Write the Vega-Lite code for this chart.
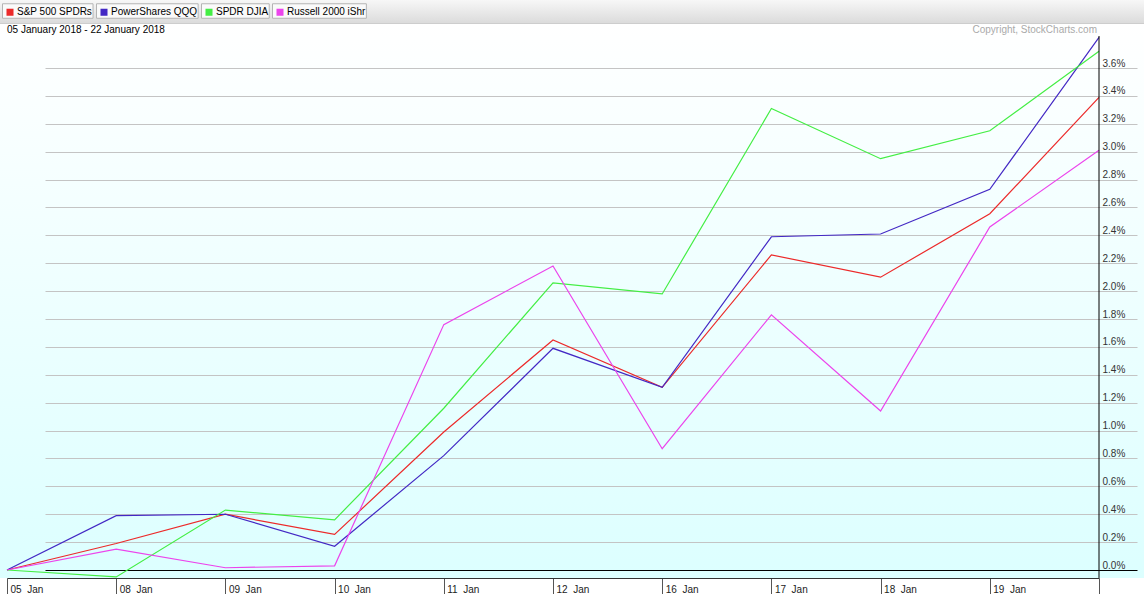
{
  "$schema": "https://vega.github.io/schema/vega-lite/v6.json",
  "width": 1144,
  "height": 578,
  "autosize": "none",
  "padding": {"left": 0, "top": 0, "right": 0, "bottom": 16},
  "background": "#ffffff",
  "config": {
    "font": "Liberation Sans",
    "view": {
      "stroke": null,
      "fill": {
        "gradient": "linear", "x1": 0, "y1": 0, "x2": 0, "y2": 1,
        "stops": [
          {"offset": 0, "color": "#f7f7f7"},
          {"offset": 0.039, "color": "#dcdcdc"},
          {"offset": 0.0405, "color": "#c4c4c4"},
          {"offset": 0.0415, "color": "#ffffff"},
          {"offset": 1, "color": "#dcffff"}
        ]
      }
    }
  },
  "datasets": {
    "perf": [
      {"date": "05 Jan", "series": "S&P 500 SPDRs", "pct": 0},
      {"date": "08 Jan", "series": "S&P 500 SPDRs", "pct": 0.19},
      {"date": "09 Jan", "series": "S&P 500 SPDRs", "pct": 0.40},
      {"date": "10 Jan", "series": "S&P 500 SPDRs", "pct": 0.255},
      {"date": "11 Jan", "series": "S&P 500 SPDRs", "pct": 0.99},
      {"date": "12 Jan", "series": "S&P 500 SPDRs", "pct": 1.65},
      {"date": "16 Jan", "series": "S&P 500 SPDRs", "pct": 1.31},
      {"date": "17 Jan", "series": "S&P 500 SPDRs", "pct": 2.26},
      {"date": "18 Jan", "series": "S&P 500 SPDRs", "pct": 2.10},
      {"date": "19 Jan", "series": "S&P 500 SPDRs", "pct": 2.555},
      {"date": "22 Jan", "series": "S&P 500 SPDRs", "pct": 3.39},
      {"date": "05 Jan", "series": "PowerShares QQQ", "pct": 0},
      {"date": "08 Jan", "series": "PowerShares QQQ", "pct": 0.39},
      {"date": "09 Jan", "series": "PowerShares QQQ", "pct": 0.40},
      {"date": "10 Jan", "series": "PowerShares QQQ", "pct": 0.17},
      {"date": "11 Jan", "series": "PowerShares QQQ", "pct": 0.82},
      {"date": "12 Jan", "series": "PowerShares QQQ", "pct": 1.59},
      {"date": "16 Jan", "series": "PowerShares QQQ", "pct": 1.31},
      {"date": "17 Jan", "series": "PowerShares QQQ", "pct": 2.39},
      {"date": "18 Jan", "series": "PowerShares QQQ", "pct": 2.41},
      {"date": "19 Jan", "series": "PowerShares QQQ", "pct": 2.73},
      {"date": "22 Jan", "series": "PowerShares QQQ", "pct": 3.82},
      {"date": "05 Jan", "series": "SPDR DJIA", "pct": 0},
      {"date": "08 Jan", "series": "SPDR DJIA", "pct": -0.05},
      {"date": "09 Jan", "series": "SPDR DJIA", "pct": 0.43},
      {"date": "10 Jan", "series": "SPDR DJIA", "pct": 0.36},
      {"date": "11 Jan", "series": "SPDR DJIA", "pct": 1.16},
      {"date": "12 Jan", "series": "SPDR DJIA", "pct": 2.06},
      {"date": "16 Jan", "series": "SPDR DJIA", "pct": 1.98},
      {"date": "17 Jan", "series": "SPDR DJIA", "pct": 3.31},
      {"date": "18 Jan", "series": "SPDR DJIA", "pct": 2.95},
      {"date": "19 Jan", "series": "SPDR DJIA", "pct": 3.15},
      {"date": "22 Jan", "series": "SPDR DJIA", "pct": 3.72},
      {"date": "05 Jan", "series": "Russell 2000 iShr", "pct": 0},
      {"date": "08 Jan", "series": "Russell 2000 iShr", "pct": 0.15},
      {"date": "09 Jan", "series": "Russell 2000 iShr", "pct": 0.016},
      {"date": "10 Jan", "series": "Russell 2000 iShr", "pct": 0.03},
      {"date": "11 Jan", "series": "Russell 2000 iShr", "pct": 1.76},
      {"date": "12 Jan", "series": "Russell 2000 iShr", "pct": 2.18},
      {"date": "16 Jan", "series": "Russell 2000 iShr", "pct": 0.87},
      {"date": "17 Jan", "series": "Russell 2000 iShr", "pct": 1.83},
      {"date": "18 Jan", "series": "Russell 2000 iShr", "pct": 1.14},
      {"date": "19 Jan", "series": "Russell 2000 iShr", "pct": 2.46},
      {"date": "22 Jan", "series": "Russell 2000 iShr", "pct": 3.01}
    ]
  },
  "layer": [
    {
      "data": {"name": "perf"},
      "mark": {"type": "line", "strokeWidth": 1.2},
      "encoding": {
        "x": {
          "field": "date", "type": "ordinal",
          "scale": {"type": "point", "range": [7, 1099], "padding": 0},
          "axis": {
            "title": null, "orient": "bottom", "grid": false,
            "domainColor": "#333333", "tickColor": "#555555", "tickSize": 16,
            "labelAlign": "left", "labelBaseline": "middle", "labelPadding": -5, "labelOffset": 3,
            "labelFont": "Liberation Sans", "labelFontSize": 10, "labelColor": "#222222",
            "labelOverlap": false, "labelAngle": 0,
            "labelExpr": "datum.value == '22 Jan' ? '' : replace(datum.value, ' ', '\u00a0\u00a0')"
          }
        },
        "y": {
          "field": "pct", "type": "quantitative",
          "scale": {"domain": [0, 3.83], "range": [570, 36], "zero": false, "nice": false},
          "axis": {
            "title": null, "orient": "right", "tickCount": 25,
            "values": [0, 0.2, 0.4, 0.6, 0.8, 1.0, 1.2, 1.4, 1.6, 1.8, 2.0, 2.2, 2.4, 2.6, 2.8, 3.0, 3.2, 3.4, 3.6],
            "domain": false, "ticks": false, "tickSize": 0,
            "labelAlign": "left", "labelBaseline": "bottom", "labelPadding": -42,
            "labelFont": "Liberation Sans", "labelFontSize": 10, "labelColor": "#333333", "labelOverlap": false,
            "labelExpr": "format(datum.value, '.1f') + '%'",
            "grid": true, "gridWidth": 1,
            "gridColor": {"condition": {"test": "datum.value === 0", "value": "#000000"}, "value": "#c4c4c4"}
          }
        },
        "color": {
          "field": "series", "type": "nominal",
          "scale": {
            "domain": ["S&P 500 SPDRs", "PowerShares QQQ", "SPDR DJIA", "Russell 2000 iShr"],
            "range": ["#ec2a2a", "#4328c4", "#44ee44", "#ec44ec"]
          },
          "legend": {
            "title": null, "orient": "none", "legendX": 2, "legendY": 3,
            "direction": "horizontal", "padding": 0,
            "symbolType": "M-0.39,-0.39H0.39V0.39H-0.39Z", "symbolSize": 324, "symbolStrokeWidth": 0, "symbolOffset": -1,
            "labelFont": "Liberation Sans", "labelFontSize": 10, "labelColor": "#000000", "labelOffset": -2,
            "labelExpr": "datum.label + '\u00a0'",
            "columnPadding": 3,
            "encode": {
              "symbols": {"update": {"fill": {"scale": "color", "field": "value"}, "fillOpacity": {"value": 1}, "strokeWidth": {"value": 0}}},
              "entries": {"update": {
                "fill": {"value": "#fafafa"},
                "stroke": {"value": "#b4b4b4"},
                "strokeWidth": {"value": 1},
                "height": {"value": 18}
              }}
            }
          }
        }
      }
    },
    {
      "data": {"values": [{}]},
      "mark": {"type": "rule", "color": "#000000", "strokeWidth": 1},
      "encoding": {
        "x": {"datum": "22 Jan", "type": "ordinal"},
        "y": {"datum": 3.83, "type": "quantitative"},
        "y2": {"datum": -0.057}
      }
    },
    {
      "data": {"values": [{"label": "05 January 2018 - 22 January 2018"}]},
      "mark": {"type": "text", "align": "left", "baseline": "middle", "font": "Liberation Sans", "fontSize": 10, "color": "#000000"},
      "encoding": {
        "x": {"datum": "05 Jan", "type": "ordinal"},
        "y": {"datum": 3.873, "type": "quantitative"},
        "text": {"field": "label"}
      }
    },
    {
      "data": {"values": [{"label": "Copyright, StockCharts.com"}]},
      "mark": {"type": "text", "align": "right", "baseline": "middle", "font": "Liberation Sans", "fontSize": 10, "color": "#aaaaaa", "dx": -2},
      "encoding": {
        "x": {"datum": "22 Jan", "type": "ordinal"},
        "y": {"datum": 3.873, "type": "quantitative"},
        "text": {"field": "label"}
      }
    }
  ]
}
